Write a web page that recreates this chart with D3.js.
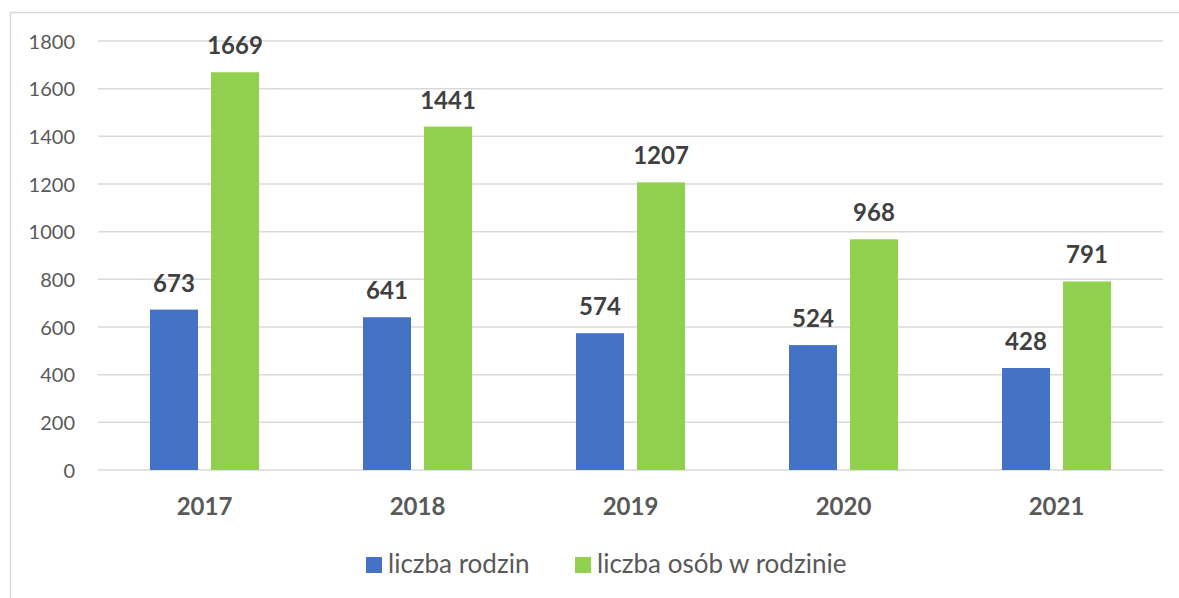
<!DOCTYPE html>
<html><head><meta charset="utf-8">
<script src="https://cdn.jsdelivr.net/npm/d3@7"></script>
<style>body{margin:0;background:#fff}svg{display:block}text{font-family:Lato,"Open Sans",sans-serif}</style>
</head><body>
<svg id="c" width="1179" height="598"></svg>
<script>
const years = ["2017","2018","2019","2020","2021"];
const rodziny = [673, 641, 574, 524, 428];
const osoby = [1669, 1441, 1207, 968, 791];
const seriesNames = ["liczba rodzin", "liczba osób w rodzinie"];
const seriesColors = ["#4472C4", "#92D050"];
const yTicks = [0, 200, 400, 600, 800, 1000, 1200, 1400, 1600, 1800];

(function(){
const svg = d3.select("#c");
svg.append("path").attr("d", "M10.5,598 V12.5 H1179").attr("fill","none").attr("stroke","#d9d9d9").attr("stroke-width",1.5);

const pL = 98, pR = 1163, pT = 41, pB = 470;
const x = d3.scaleBand().domain(years).range([pL, pR]);
const y = d3.scaleLinear().domain([0, 1800]).range([pB, pT]);
const barW = 48, gap = 13;

svg.append("g").selectAll("line").data(yTicks).join("line")
  .attr("x1", pL).attr("x2", pR)
  .attr("y1", d => y(d)).attr("y2", d => y(d))
  .attr("stroke", "#d9d9d9").attr("stroke-width", 1.5);

const yAxis = d3.axisLeft(y).tickValues(yTicks).tickFormat(d3.format("d")).tickSize(0).tickPadding(0);
const gy = svg.append("g").attr("transform", `translate(75,0)`).call(yAxis);
gy.select(".domain").remove();
gy.selectAll("text").attr("font-size", 20).attr("fill", "#595959").attr("font-family", "Lato").attr("dy", "0.36em");

const xAxis = d3.axisBottom(x).tickSize(0).tickPadding(0);
const gx = svg.append("g").attr("transform", `translate(0,515)`).call(xAxis);
gx.select(".domain").remove();
gx.selectAll("text").attr("font-size", 24).attr("font-weight", "bold").attr("fill", "#595959").attr("font-family", "Lato").attr("dy", 0);

const series = [rodziny, osoby];
series.forEach((vals, si) => {
  const off = si === 0 ? -(gap/2 + barW) : gap/2;
  const g = svg.append("g");
  g.selectAll("rect").data(vals).join("rect")
    .attr("x", (d, i) => x(years[i]) + x.bandwidth()/2 + off)
    .attr("y", d => y(d))
    .attr("width", barW)
    .attr("height", d => y(0) - y(d))
    .attr("fill", seriesColors[si]);
  g.selectAll("text").data(vals).join("text")
    .attr("x", (d, i) => x(years[i]) + x.bandwidth()/2 + off + barW/2)
    .attr("y", d => y(d) - 18)
    .attr("text-anchor", "middle")
    .attr("font-size", 24).attr("font-weight", "bold").attr("fill", "#404040")
    .text(d => d);
});

const legX = [366, 575];
seriesNames.forEach((n, i) => {
  svg.append("rect").attr("x", legX[i]).attr("y", 557).attr("width", 16).attr("height", 16).attr("fill", seriesColors[i]);
  svg.append("text").attr("x", legX[i] + 22).attr("y", 573).attr("font-size", 26).attr("fill", "#595959").text(n);
});
})();
</script>
</body></html>
